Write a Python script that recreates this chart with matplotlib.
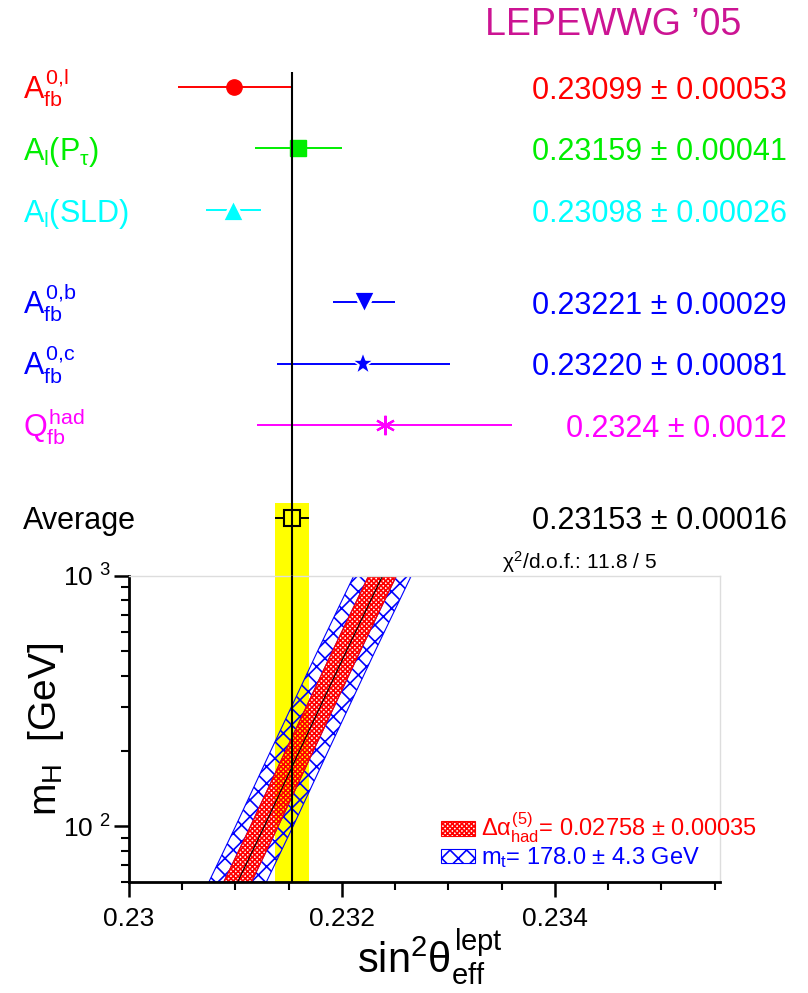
import numpy as np
import matplotlib
matplotlib.use("Agg")
import matplotlib.pyplot as plt
from matplotlib.patches import Patch
from matplotlib.ticker import FixedLocator, MultipleLocator, FuncFormatter, LogLocator, NullFormatter
from matplotlib.transforms import blended_transform_factory

plt.rcParams['font.family'] = ['Liberation Sans', 'DejaVu Sans']
plt.rcParams['mathtext.fontset'] = 'custom'
plt.rcParams['mathtext.rm'] = 'Liberation Sans'
plt.rcParams['mathtext.it'] = 'Liberation Sans'
plt.rcParams['mathtext.bf'] = 'Liberation Sans:bold'
plt.rcParams['mathtext.sf'] = 'Liberation Sans'
plt.rcParams['hatch.linewidth'] = 1.2

# sin^2 theta_eff^lept measurements
labels = [r'$A_{fb}^{0,\!l}$', r'$A_{l}(P_{\tau})$', r'$A_{l}$(SLD)',
          r'$A_{fb}^{0,\!b}$', r'$A_{fb}^{0,\!c}$', r'$Q_{fb}^{had}$', 'Average']
values = [0.23099, 0.23159, 0.23098, 0.23221, 0.23220, 0.2324, 0.23153]
errors = [0.00053, 0.00041, 0.00026, 0.00029, 0.00081, 0.0012, 0.00016]
value_texts = ['0.23099 ± 0.00053', '0.23159 ± 0.00041', '0.23098 ± 0.00026',
               '0.23221 ± 0.00029', '0.23220 ± 0.00081', '0.2324 ± 0.0012',
               '0.23153 ± 0.00016']
colors = ['#ff0000', '#00ee00', '#00ffff', '#0000ff', '#0000ff', '#ff00ff', 'black']

# SM prediction vs Higgs mass
mh = [60, 100, 200, 500, 1000]
sin2_sm = [0.23102, 0.23127, 0.23160, 0.23204, 0.23238]
dalpha_halfwidth = 0.00013
mt_halfwidth = 0.00027

title = 'LEPEWWG ’05'
chi2_text = r'$\chi^{2}$/d.o.f.: 11.8 / 5'
dalpha_label = r'$\Delta\alpha_{had}^{(5)}$= 0.02758 ± 0.00035'
mt_label = r'$m_{t}$= 178.0 ± 4.3 GeV'

# layout / style
rows = [0, 1, 2, 3.5, 4.5, 5.5, 7]
markers = ['o', 's', '^', 'v', '*', (6, 2, 0), 's']
msizes = [11, 11, 16, 16, 17, 14, 12]
mfaces = colors[:6] + ['#ffff00']
medges = ['#ff0000', '#00ee00', 'white', 'white', 'white', '#ff00ff', 'black']
mwidths = [1, 1, 2, 2, 1.2, 1.6, 1.5]
yellow = '#ffff00'
xlim = (0.23, 0.23555)

fig = plt.figure(figsize=(8.08, 9.93), dpi=100)
ax_top = fig.add_axes([0.15965, 0.41994, 0.73144, 0.51964])
ax_low = fig.add_axes([0.15965, 0.11178, 0.73144, 0.30816])

avg = values[-1]
avg_err = errors[-1]

# upper panel
ax_top.set_xlim(*xlim)
ax_top.set_ylim(7.951, -0.439)
ax_top.axis('off')
ax_top.patch.set_alpha(0)

ax_top.fill_betweenx([rows[-1] - 0.24, 7.951], avg - avg_err, avg + avg_err,
                     color=yellow, lw=0, zorder=0.5)
ax_top.vlines(avg, -0.24, 7.951, color='black', lw=1.5, zorder=4)

tr = blended_transform_factory(ax_top.transAxes, ax_top.transData)
for i in range(len(values)):
    r = rows[i]
    ax_top.hlines(r, values[i] - errors[i], values[i] + errors[i],
                  color=colors[i], lw=1.4, zorder=2)
    ax_top.plot(values[i], r, marker=markers[i], ms=msizes[i], mfc=mfaces[i],
                mec=medges[i], mew=mwidths[i], ls='none', zorder=3)
    ax_top.text(-0.179, r + 0.19, labels[i], color=colors[i], fontsize=22,
                transform=tr, ha='left', va='baseline')
    ax_top.text(1.113, r + 0.19, value_texts[i], color=colors[i], fontsize=22,
                transform=tr, ha='right', va='baseline')

fig.text(613 / 808, 1 - 35 / 993, title, color='#cc1493', fontsize=27,
         ha='center', va='baseline')
fig.text(657 / 808, 1 - 569 / 993, chi2_text, fontsize=15,
         ha='right', va='baseline')

# lower panel
center = np.array(sin2_sm)
ax_low.axvspan(avg - avg_err, avg + avg_err, color=yellow, lw=0, zorder=0.5)
ax_low.fill_betweenx(mh, center - mt_halfwidth, center - dalpha_halfwidth,
                     facecolor='none', edgecolor='#0000ff', hatch='xx', lw=0.8, zorder=1)
ax_low.fill_betweenx(mh, center + dalpha_halfwidth, center + mt_halfwidth,
                     facecolor='none', edgecolor='#0000ff', hatch='xx', lw=0.8, zorder=1)
ax_low.fill_betweenx(mh, center - dalpha_halfwidth, center + dalpha_halfwidth,
                     facecolor='none', edgecolor='#ff0000', hatch='xxxxxxx', lw=0.8, zorder=1.5)
ax_low.plot(center, mh, color='black', lw=0.8, zorder=2)
ax_low.axvline(avg, color='black', lw=1.5, zorder=4)

ax_low.set_yscale('log')
ax_low.set_xlim(*xlim)
ax_low.set_ylim(60, 1000)

ax_low.xaxis.set_major_locator(FixedLocator([0.230, 0.232, 0.234]))
ax_low.xaxis.set_minor_locator(MultipleLocator(0.0005))
ax_low.xaxis.set_major_formatter(FuncFormatter(lambda v, _: f'{v:g}'))
ax_low.yaxis.set_major_locator(FixedLocator([100, 1000]))
ax_low.yaxis.set_minor_locator(LogLocator(subs=range(2, 10)))
ax_low.yaxis.set_minor_formatter(NullFormatter())
ax_low.yaxis.set_major_formatter(
    FuncFormatter(lambda v, _: r'$10^{\;\,%d}$' % round(np.log10(v))))

ax_low.tick_params(which='major', direction='out', length=11, width=1.8, labelsize=19)
ax_low.tick_params(which='minor', direction='out', length=6, width=1.5)
ax_low.tick_params(axis='x', which='major', pad=7)
ax_low.tick_params(axis='y', which='major', pad=2)
ax_low.tick_params(top=False, right=False, which='both')

for s in ['left', 'bottom']:
    ax_low.spines[s].set_linewidth(2)
for s in ['top', 'right']:
    ax_low.spines[s].set_color('#dddddd')
    ax_low.spines[s].set_linewidth(1)

ax_low.set_xlabel(r'$\mathrm{sin}^{2}\theta_{eff}^{lept}$', fontsize=30)
ax_low.xaxis.set_label_coords(0.509, -0.150)
ax_low.set_ylabel(r'$m_{H}$  [GeV]', fontsize=28)
ax_low.yaxis.set_label_coords(-0.1066, 0.5)

handles = [Patch(facecolor='none', edgecolor='#ff0000', hatch='xxxxxxx', lw=0.8),
           Patch(facecolor='none', edgecolor='#0000ff', hatch='xx', lw=0.8)]
ax_low.legend(handles, [dalpha_label, mt_label], loc='upper left',
              bbox_to_anchor=(0.528, 0.232), frameon=False, fontsize=17,
              handlelength=1.44, handleheight=0.55, handletextpad=0.25,
              labelspacing=0.0, borderpad=0, borderaxespad=0,
              labelcolor=['#ff0000', '#0000ff'])

fig.savefig('out.png', dpi=100)
